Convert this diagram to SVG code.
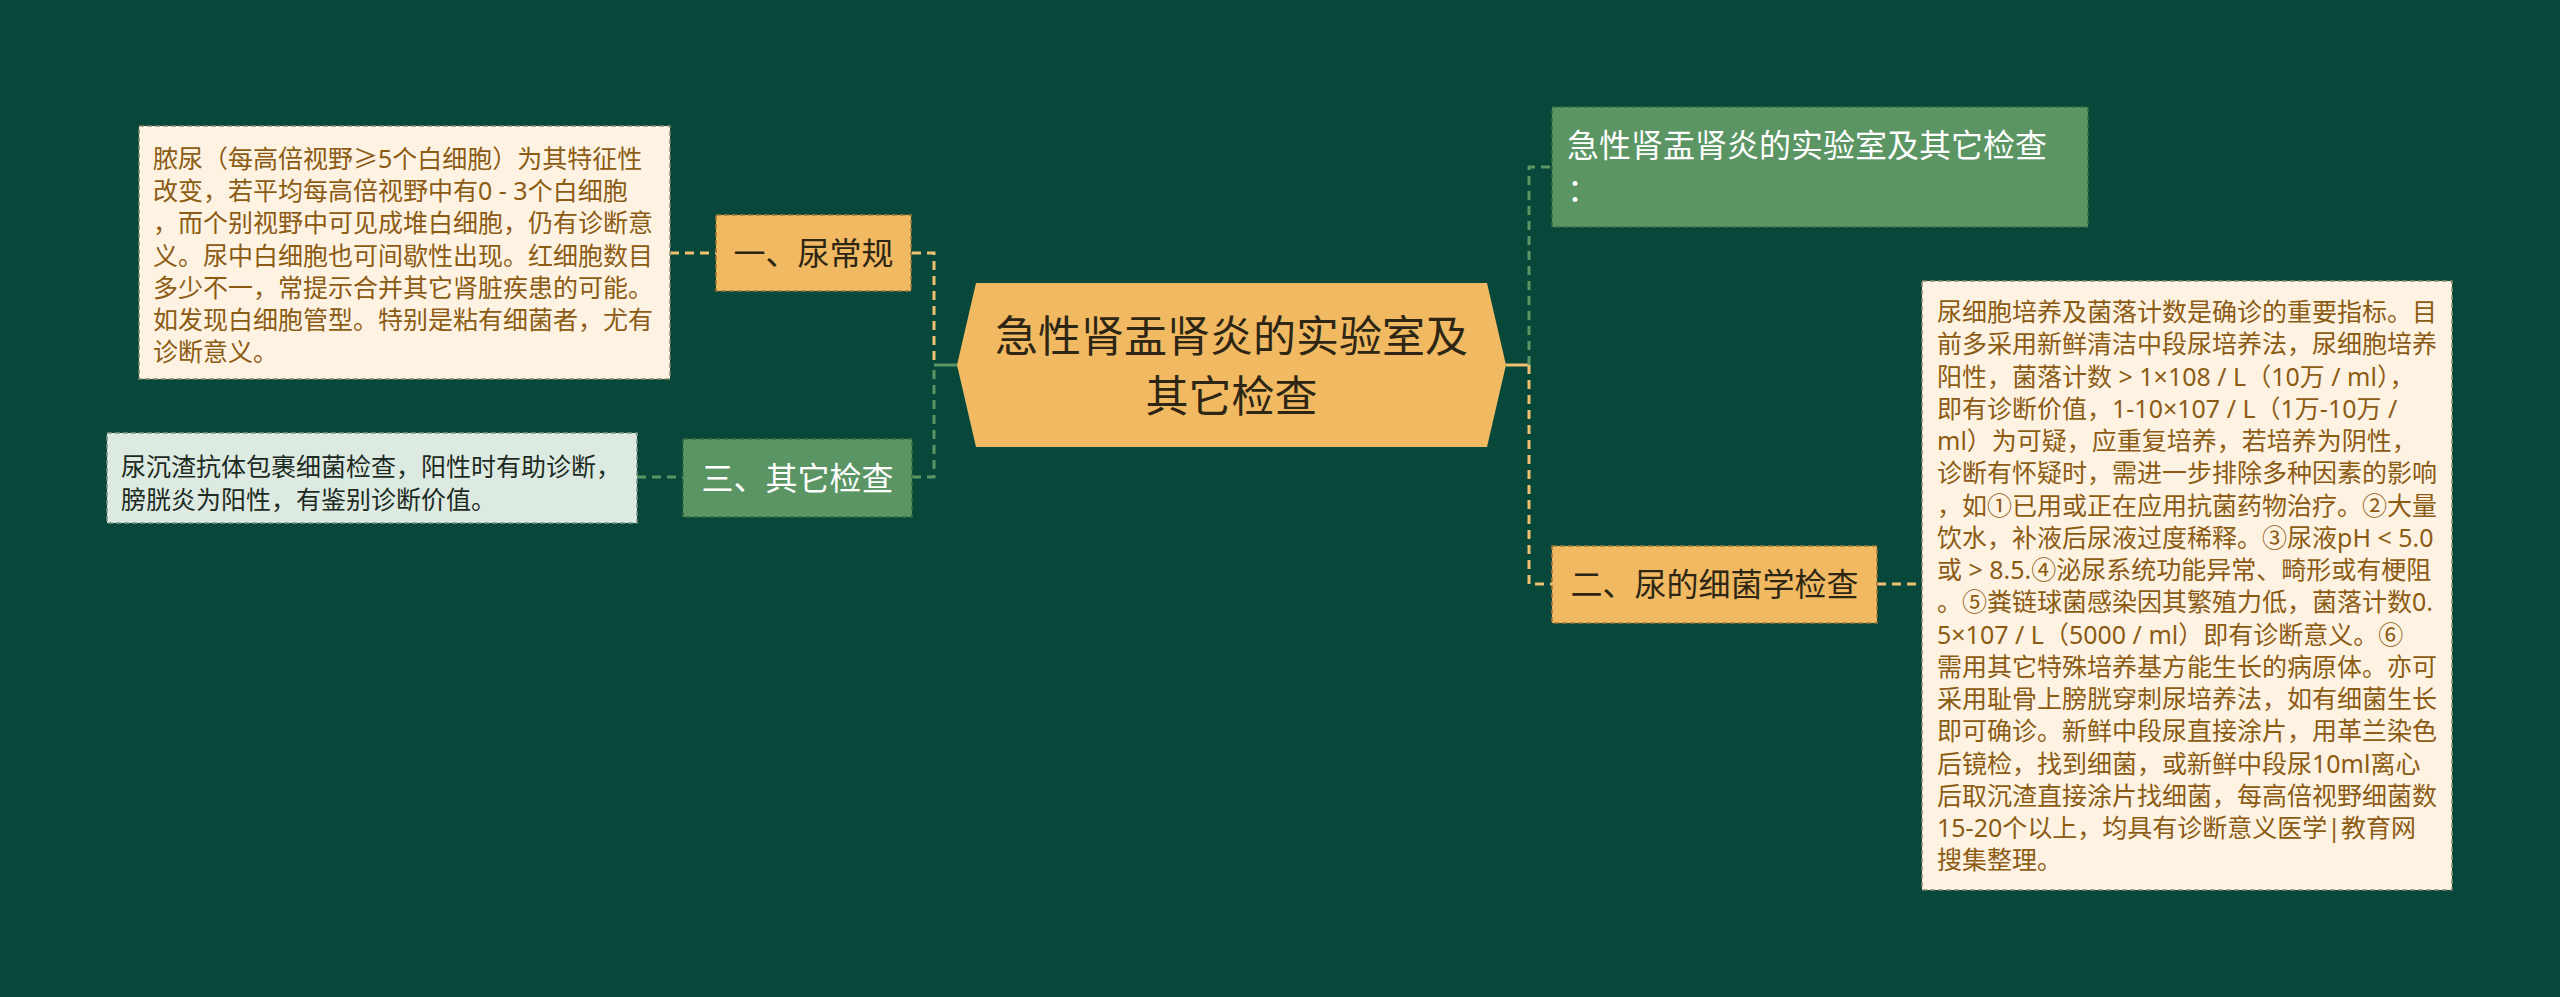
<svg xmlns="http://www.w3.org/2000/svg" width="2560" height="997" viewBox="0 0 2560 997">
<style>
text{font-family:"Noto Sans","Noto Sans CJK SC",sans-serif;}
.yb{fill:#f0b962;stroke:#9c7a3a;stroke-width:1.5;stroke-dasharray:5 3;}
.gb{fill:#5a9563;stroke:#3a6b45;stroke-width:1.5;stroke-dasharray:5 3;}
.cb{fill:#fef3e2;stroke:#8a8a70;stroke-width:1.5;stroke-dasharray:5 3;}
.lb{fill:#dceae1;stroke:#7f9587;stroke-width:1.5;stroke-dasharray:5 3;}
.ct{font-size:25px;fill:#8c5b14;}
.lt{font-size:25px;fill:#1c2a22;}
.yt{font-size:32px;fill:#2e2614;text-anchor:middle;}
.wt{font-size:32px;fill:#ffffff;}
.cy{fill:none;stroke:#f0c070;stroke-width:3;stroke-dasharray:9 6;}
.cg{fill:none;stroke:#5a9563;stroke-width:3;stroke-dasharray:9 6;}
.sy{fill:none;stroke:#f0c070;stroke-width:3;}
.sg{fill:none;stroke:#5a9563;stroke-width:3;}
</style>
<rect width="2560" height="997" fill="#07483a"/>
<g id="connectors">
<path class="cy" d="M912,253 H934 V365"/>
<path class="cg" d="M912,477 H934 V365"/>
<path class="sg" d="M934,365 H957"/>
<path class="cy" d="M670,253 H716"/>
<path class="cg" d="M637,477 H683"/>
<path class="sy" d="M1506,365 H1529"/>
<path class="cg" d="M1529,365 V167 H1552"/>
<path class="cy" d="M1529,365 V584 H1552"/>
<path class="cy" d="M1877,584 H1922"/>
</g>
<g id="center">
<polygon points="976,283 1487,283 1506,365 1487,447 976,447 957,365" fill="#f0b962"/>
<text class="yt" style="font-size:43px" x="1231.5" y="352">急性肾盂肾炎的实验室及</text>
<text class="yt" style="font-size:43px" x="1231.5" y="412">其它检查</text>
</g>
<g id="n1">
<rect class="yb" x="716" y="215" width="195" height="76"/>
<text class="yt" x="813.5" y="265">一、尿常规</text>
</g>
<g id="n1d">
<rect class="cb" x="139" y="126" width="531" height="253"/>
<text class="ct" x="153" y="168"><tspan x="153">脓尿（每高倍视野≥5个白细胞）为其特征性</tspan><tspan x="153" dy="32.2">改变，若平均每高倍视野中有0 - 3个白细胞</tspan><tspan x="153" dy="32.2">，而个别视野中可见成堆白细胞，仍有诊断意</tspan><tspan x="153" dy="32.2">义。尿中白细胞也可间歇性出现。红细胞数目</tspan><tspan x="153" dy="32.2">多少不一，常提示合并其它肾脏疾患的可能。</tspan><tspan x="153" dy="32.2">如发现白细胞管型。特别是粘有细菌者，尤有</tspan><tspan x="153" dy="32.2">诊断意义。</tspan></text>
</g>
<g id="n3">
<rect class="gb" x="683" y="439" width="229" height="78"/>
<text class="wt" x="797.5" y="490" text-anchor="middle">三、其它检查</text>
</g>
<g id="n3d">
<rect class="lb" x="107" y="433" width="530" height="90"/>
<text class="lt" x="121" y="476"><tspan x="121">尿沉渣抗体包裹细菌检查，阳性时有助诊断，</tspan><tspan x="121" dy="33.3">膀胱炎为阳性，有鉴别诊断价值。</tspan></text>
</g>
<g id="n0">
<rect class="gb" x="1552" y="107" width="536" height="120"/>
<text class="wt" x="1567" y="157"><tspan x="1567">急性肾盂肾炎的实验室及其它检查</tspan><tspan x="1567" dy="43.5">：</tspan></text>
</g>
<g id="n2">
<rect class="yb" x="1552" y="546" width="325" height="77"/>
<text class="yt" x="1714.5" y="596">二、尿的细菌学检查</text>
</g>
<g id="n2d">
<rect class="cb" x="1922" y="281" width="530" height="609"/>
<text class="ct" x="1937" y="321"><tspan x="1937">尿细胞培养及菌落计数是确诊的重要指标。目</tspan><tspan x="1937" dy="32.25">前多采用新鲜清洁中段尿培养法，尿细胞培养</tspan><tspan x="1937" dy="32.25">阳性，菌落计数 &gt; 1×108 / L（10万 / ml），</tspan><tspan x="1937" dy="32.25">即有诊断价值，1-10×107 / L（1万-10万 /</tspan><tspan x="1937" dy="32.25">ml）为可疑，应重复培养，若培养为阴性，</tspan><tspan x="1937" dy="32.25">诊断有怀疑时，需进一步排除多种因素的影响</tspan><tspan x="1937" dy="32.25">，如①已用或正在应用抗菌药物治疗。②大量</tspan><tspan x="1937" dy="32.25">饮水，补液后尿液过度稀释。③尿液pH &lt; 5.0</tspan><tspan x="1937" dy="32.25">或 &gt; 8.5.④泌尿系统功能异常、畸形或有梗阻</tspan><tspan x="1937" dy="32.25">。⑤粪链球菌感染因其繁殖力低，菌落计数0.</tspan><tspan x="1937" dy="32.25">5×107 / L（5000 / ml）即有诊断意义。⑥</tspan><tspan x="1937" dy="32.25">需用其它特殊培养基方能生长的病原体。亦可</tspan><tspan x="1937" dy="32.25">采用耻骨上膀胱穿刺尿培养法，如有细菌生长</tspan><tspan x="1937" dy="32.25">即可确诊。新鲜中段尿直接涂片，用革兰染色</tspan><tspan x="1937" dy="32.25">后镜检，找到细菌，或新鲜中段尿10ml离心</tspan><tspan x="1937" dy="32.25">后取沉渣直接涂片找细菌，每高倍视野细菌数</tspan><tspan x="1937" dy="32.25">15-20个以上，均具有诊断意义医学|教育网</tspan><tspan x="1937" dy="32.25">搜集整理。</tspan></text>
</g>
</svg>
